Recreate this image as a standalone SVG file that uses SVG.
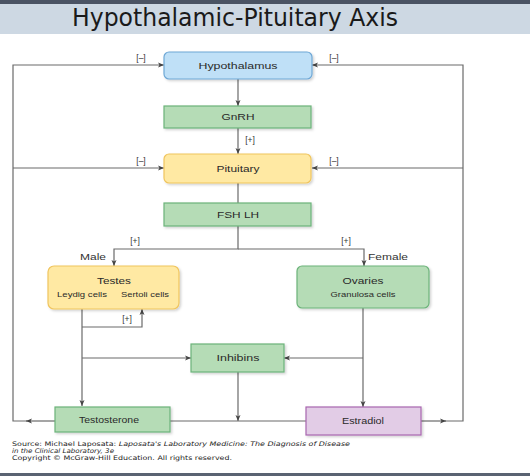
<svg xmlns="http://www.w3.org/2000/svg" width="530" height="476" viewBox="0 0 530 476">
<defs>
<style>
.n{font-family:"Liberation Sans",Arial,sans-serif;font-size:9.5px;fill:#2a2a2a;text-anchor:middle}
.s{font-family:"Liberation Sans",Arial,sans-serif;font-size:7.2px;fill:#2a2a2a;text-anchor:middle}
.l{font-family:"Liberation Sans",Arial,sans-serif;font-size:8.5px;fill:#333;text-anchor:middle}
.c{fill:none;stroke:#6a6a6a;stroke-width:1.2}
.blue{fill:#bfe0f7;stroke:#6fa8d6;stroke-width:1.2}
.green{fill:#b5dcb6;stroke:#6cb37a;stroke-width:1.2}
.yellow{fill:#ffe9a3;stroke:#f0c55e;stroke-width:1.2}
.purple{fill:#e2cce6;stroke:#a866b0;stroke-width:1.2}
.src{font-family:"DejaVu Sans",Verdana,sans-serif;font-size:6.3px;fill:#222}
</style>
<marker id="ah" markerUnits="userSpaceOnUse" markerWidth="7" markerHeight="6" refX="6" refY="3" orient="auto">
<path d="M0,0.5 L6,3 L0,5.5 L1.5,3 z" fill="#444"/>
</marker>
<filter id="sh" x="-10%" y="-10%" width="130%" height="140%">
<feDropShadow dx="1.5" dy="1.5" stdDeviation="1" flood-color="#000" flood-opacity="0.18"/>
</filter>
</defs>
<rect x="0" y="0" width="530" height="476" fill="#ffffff"/>
<rect x="0" y="0" width="530" height="4" fill="#4a5363"/>
<rect x="0" y="4" width="530" height="30" fill="#cdd8e3"/>
<text x="235" y="26" font-family="'DejaVu Sans',sans-serif" font-size="24" fill="#1a1a1a" text-anchor="middle" textLength="326" lengthAdjust="spacingAndGlyphs">Hypothalamic-Pituitary Axis</text>
<rect x="0" y="473" width="530" height="3" fill="#5a6372"/>

<g id="connectors">
<line class="c" x1="238" y1="79" x2="238" y2="106" marker-end="url(#ah)"/>
<line class="c" x1="238" y1="128" x2="238" y2="154" marker-end="url(#ah)"/>
<line class="c" x1="238" y1="183" x2="238" y2="203"/>
<polyline class="c" points="238,226 238,249 114,249 114,266" marker-end="url(#ah)"/>
<polyline class="c" points="238,249 364,249 364,266" marker-end="url(#ah)"/>
<line class="c" x1="82" y1="309" x2="82" y2="406" marker-end="url(#ah)"/>
<polyline class="c" points="82,327 142,327 142,309" marker-end="url(#ah)"/>
<line class="c" x1="82" y1="358" x2="191" y2="358" marker-end="url(#ah)"/>
<line class="c" x1="363" y1="308" x2="363" y2="407" marker-end="url(#ah)"/>
<line class="c" x1="363" y1="358" x2="284" y2="358" marker-end="url(#ah)"/>
<line class="c" x1="238" y1="372" x2="238" y2="421" marker-end="url(#ah)"/>
<line class="c" x1="170" y1="421" x2="306" y2="421"/>
<line class="c" x1="55" y1="421" x2="26" y2="421" marker-end="url(#ah)"/>
<polyline class="c" points="27,421 13,421 13,65 164,65" marker-end="url(#ah)"/>
<line class="c" x1="13" y1="168" x2="164" y2="168" marker-end="url(#ah)"/>
<line class="c" x1="421" y1="421" x2="446" y2="421" marker-end="url(#ah)"/>
<polyline class="c" points="445,421 463,421 463,65 312,65" marker-end="url(#ah)"/>
<line class="c" x1="463" y1="168" x2="312" y2="168" marker-end="url(#ah)"/>
<text class="l" x="141" y="61">[–]</text>
<text class="l" x="334" y="61">[–]</text>
<text class="l" x="141" y="164">[–]</text>
<text class="l" x="334" y="164">[–]</text>
<text class="l" x="250" y="143">[+]</text>
<text class="l" x="135" y="244">[+]</text>
<text class="l" x="346" y="244">[+]</text>
<text class="l" x="127" y="322">[+]</text>
<text class="l" x="93" y="260" font-size="9" textLength="26" lengthAdjust="spacingAndGlyphs">Male</text>
<text class="l" x="388" y="260" font-size="9" textLength="40" lengthAdjust="spacingAndGlyphs">Female</text>
</g>

<g id="hypothalamus">
<rect class="blue" x="164" y="52" width="148" height="27" rx="5" filter="url(#sh)"/>
<text class="n" x="238" y="69" textLength="79" lengthAdjust="spacingAndGlyphs">Hypothalamus</text>
</g>
<g id="gnrh">
<rect class="green" x="164" y="106" width="147" height="22" filter="url(#sh)"/>
<text class="n" x="238" y="120" textLength="33" lengthAdjust="spacingAndGlyphs">GnRH</text>
</g>
<g id="pituitary">
<rect class="yellow" x="164" y="154" width="147" height="29" rx="5" filter="url(#sh)"/>
<text class="n" x="238" y="172" textLength="43" lengthAdjust="spacingAndGlyphs">Pituitary</text>
</g>
<g id="fshlh">
<rect class="green" x="164" y="203" width="147" height="23" filter="url(#sh)"/>
<text class="n" x="238" y="218" textLength="42" lengthAdjust="spacingAndGlyphs">FSH LH</text>
</g>
<g id="testes">
<rect class="yellow" x="48" y="266" width="131" height="43" rx="6" filter="url(#sh)"/>
<text class="n" x="114" y="284" textLength="34" lengthAdjust="spacingAndGlyphs">Testes</text>
<text class="s" x="82" y="297" textLength="50" lengthAdjust="spacingAndGlyphs">Leydig cells</text>
<text class="s" x="145" y="297" textLength="48" lengthAdjust="spacingAndGlyphs">Sertoli cells</text>
</g>
<g id="ovaries">
<rect class="green" x="297" y="266" width="132" height="42" rx="5" filter="url(#sh)"/>
<text class="n" x="363" y="284" textLength="41" lengthAdjust="spacingAndGlyphs">Ovaries</text>
<text class="s" x="363" y="297" textLength="65" lengthAdjust="spacingAndGlyphs">Granulosa cells</text>
</g>
<g id="inhibins">
<rect class="green" x="191" y="344" width="93" height="28" filter="url(#sh)"/>
<text class="n" x="238" y="361" textLength="43" lengthAdjust="spacingAndGlyphs">Inhibins</text>
</g>
<g id="testosterone">
<rect class="green" x="55" y="407" width="115" height="25" filter="url(#sh)"/>
<text class="n" x="109" y="423" textLength="60" lengthAdjust="spacingAndGlyphs">Testosterone</text>
</g>
<g id="estradiol">
<rect class="purple" x="306" y="407" width="115" height="28" filter="url(#sh)"/>
<text class="n" x="363" y="424" textLength="42" lengthAdjust="spacingAndGlyphs">Estradiol</text>
</g>

<text class="src" x="12" y="446" textLength="338" lengthAdjust="spacingAndGlyphs">Source: Michael Laposata: <tspan font-style="italic">Laposata's Laboratory Medicine: The Diagnosis of Disease</tspan></text>
<text class="src" x="12" y="453" font-style="italic" textLength="102" lengthAdjust="spacingAndGlyphs">in the Clinical Laboratory, 3e</text>
<text class="src" x="12" y="460" textLength="220" lengthAdjust="spacingAndGlyphs">Copyright © McGraw-Hill Education. All rights reserved.</text>
</svg>
